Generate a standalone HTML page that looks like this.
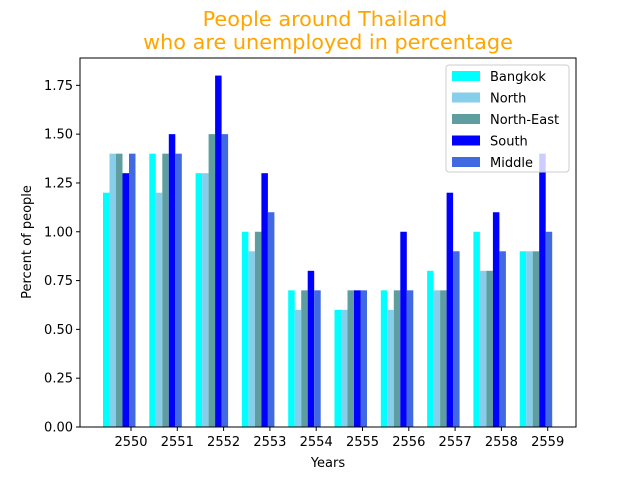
<!DOCTYPE html>
<html><head><meta charset="utf-8"><style>body{margin:0;background:#fff}svg{display:block}text{font-family:"DejaVu Sans","Liberation Sans",sans-serif}</style></head>
<body>
<svg id="chart" width="640" height="480"></svg>
<script>
const years = ['2550','2551','2552','2553','2554','2555','2556','2557','2558','2559'];
const bangkok = [1.2,1.4,1.3,1.0,0.7,0.6,0.7,0.8,1.0,0.9];
const north = [1.4,1.2,1.3,0.9,0.6,0.6,0.6,0.7,0.8,0.9];
const northEast = [1.4,1.4,1.5,1.0,0.7,0.7,0.7,0.7,0.8,0.9];
const south = [1.3,1.5,1.8,1.3,0.8,0.7,1.0,1.2,1.1,1.4];
const middle = [1.4,1.4,1.5,1.1,0.7,0.7,0.7,0.9,0.9,1.0];
const seriesNames = ['Bangkok','North','North-East','South','Middle'];
const yTicks = [0,0.25,0.5,0.75,1.0,1.25,1.5,1.75];

const colors = ['#00ffff','#87ceeb','#5f9ea0','#0000ff','#4169e1'];
const series = [bangkok,north,northEast,south,middle];
const L=80,R=576,T=58,B=427,yMax=1.89;
const y = v => B - v/yMax*(B-T);
const bw = 6.5, gStep = 46.3, g0 = 103;
const groupX = i => g0 + i*gStep;
const svg = document.getElementById('chart');
const NS='http://www.w3.org/2000/svg';
function mk(tag, attrs, txt){const e=document.createElementNS(NS,tag);for(const k in attrs)e.setAttribute(k,attrs[k]);if(txt!==undefined)e.textContent=txt;svg.appendChild(e);return e;}

let t=mk('text',{x:325,y:26,'text-anchor':'middle','font-size':20.8,fill:'#ffa500'},'People around Thailand');


t=mk('text',{x:328,y:49,'text-anchor':'middle','font-size':20.8,fill:'#ffa500'},'who are unemployed in percentage');



series.forEach((s,j)=>{s.forEach((v,i)=>{
  const r=mk('rect',{x:groupX(i)+j*bw,y:y(v),width:bw,height:B-y(v),fill:colors[j]});
  
  
});});

let ax=mk('rect',{x:L,y:T,width:R-L,height:B-T,fill:'none',stroke:'#000','stroke-width':1});



yTicks.forEach(v=>{
  mk('line',{x1:L-4,x2:L,y1:y(v),y2:y(v),stroke:'#000'});
  const l=mk('text',{x:L-7,y:y(v)+4.5,'text-anchor':'end','font-size':13},v.toFixed(2));
  
  
});
years.forEach((yr,i)=>{
  const cx=groupX(i)+28;
  mk('line',{x1:cx,x2:cx,y1:B,y2:B+4,stroke:'#000'});
  const l=mk('text',{x:cx,y:B+19,'text-anchor':'middle','font-size':13},yr);
  
  
});
t=mk('text',{x:328,y:467,'text-anchor':'middle','font-size':13},'Years');


t=mk('text',{x:31,y:242,'text-anchor':'middle','font-size':13,transform:'rotate(-90 31 242)'},'Percent of people');



const lg=mk('rect',{x:446,y:65,width:123,height:107,rx:3,fill:'#fff','fill-opacity':0.8,stroke:'#ccc'});


seriesNames.forEach((n,j)=>{
  const yy=76+j*21.5;
  const sw=mk('rect',{x:452,y:yy-5,width:28,height:10,fill:colors[j]});
  
  
  const tx=mk('text',{x:490,y:yy+5,'font-size':13},n);
  
  
});
</script>
</body></html>
